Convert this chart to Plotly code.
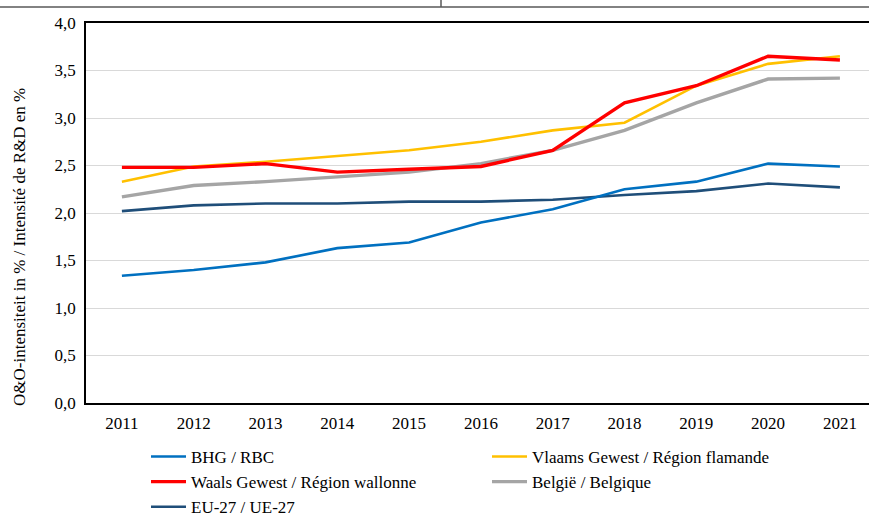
import plotly.graph_objects as go

years = ["2011", "2012", "2013", "2014", "2015", "2016", "2017", "2018", "2019", "2020", "2021"]
bhg = [1.34, 1.40, 1.48, 1.63, 1.69, 1.90, 2.04, 2.25, 2.33, 2.52, 2.49]
vlaams = [2.33, 2.49, 2.54, 2.60, 2.66, 2.75, 2.87, 2.95, 3.34, 3.57, 3.65]
waals = [2.48, 2.48, 2.52, 2.43, 2.46, 2.49, 2.66, 3.16, 3.34, 3.65, 3.61]
belgie = [2.17, 2.29, 2.33, 2.38, 2.43, 2.52, 2.66, 2.87, 3.16, 3.41, 3.42]
eu27 = [2.02, 2.08, 2.10, 2.10, 2.12, 2.12, 2.14, 2.19, 2.23, 2.31, 2.27]
y_ticks = [0, 0.5, 1.0, 1.5, 2.0, 2.5, 3.0, 3.5, 4.0]

FONT = "Liberation Serif, Times New Roman, Times, serif"
W, H = 869, 516
L, R, T, B = 86, 0, 23, 113
pw = W - L - R
ph = H - T - B

def px_x(p):
    return (p - L) / pw

def px_y(p):
    return (H - B - p) / ph

series = [
    ("BHG / RBC", bhg, "#0070C0", 2.6, "legend", "g1"),
    ("Vlaams Gewest / Région flamande", vlaams, "#FFC000", 2.6, "legend2", "g2"),
    ("Waals Gewest / Région wallonne", waals, "#FF0000", 3.4, "legend", "g3"),
    ("België / Belgique", belgie, "#A5A5A5", 3.4, "legend2", "g4"),
    ("EU-27 / UE-27", eu27, "#1F4E79", 2.6, "legend", "g5"),
]

fig = go.Figure()
order = [4, 0, 3, 1, 2]
for i in order:
    name, vals, col, w, lg, grp = series[i]
    fig.add_trace(go.Scatter(
        x=years, y=vals, name=name, mode="lines",
        line=dict(color=col, width=w),
        legend=lg, legendgroup=grp, legendrank=i,
    ))

legend_common = dict(
    orientation="v", xanchor="left", yanchor="top",
    font=dict(family=FONT, size=17, color="#000000"),
    bgcolor="rgba(0,0,0,0)", tracegroupgap=7, itemwidth=35,
    traceorder="normal",
)

fig.update_layout(
    width=W, height=H,
    margin=dict(l=L, r=R, t=T, b=B, pad=0, autoexpand=False),
    paper_bgcolor="white", plot_bgcolor="white",
    separators=",.",
    font=dict(family=FONT, size=17, color="#000000"),
    showlegend=True,
    legend=dict(x=px_x(146), y=px_y(439), **legend_common),
    legend2=dict(x=px_x(487), y=px_y(439), **legend_common),
    xaxis=dict(
        type="category", range=[-0.5, 10.405], automargin=False,
        showline=True, linecolor="#000000", linewidth=1.5, mirror=True,
        showgrid=False, ticks="", ticklabelstandoff=4,
        tickfont=dict(family=FONT, size=17),
    ),
    yaxis=dict(
        range=[0, 4.0], tickvals=y_ticks, tickformat=".1f", automargin=False,
        showline=True, linecolor="#000000", linewidth=1.5,
        showgrid=True, gridcolor="#D9D9D9", gridwidth=1, zeroline=False,
        ticks="", ticklabelstandoff=5,
        tickfont=dict(family=FONT, size=17),
    ),
    annotations=[dict(
        text="O&amp;O-intensiteit in % / Intensité de R&amp;D en %",
        xref="paper", yref="paper", x=px_x(19), y=px_y(247),
        xanchor="center", yanchor="middle", textangle=-90, showarrow=False,
        font=dict(family=FONT, size=17, color="#000000"),
    )],
    shapes=[
        dict(type="line", xref="paper", yref="paper",
             x0=px_x(0), x1=px_x(W), y0=px_y(7), y1=px_y(7),
             line=dict(color="#595959", width=1.5)),
        dict(type="line", xref="paper", yref="paper",
             x0=px_x(441), x1=px_x(441), y0=px_y(0), y1=px_y(7),
             line=dict(color="#595959", width=1.5)),
    ],
)

fig.write_html(
    "out.html",
    config={"displayModeBar": False},
    post_script="document.body.style.margin='0';document.body.style.overflow='hidden';",
)
